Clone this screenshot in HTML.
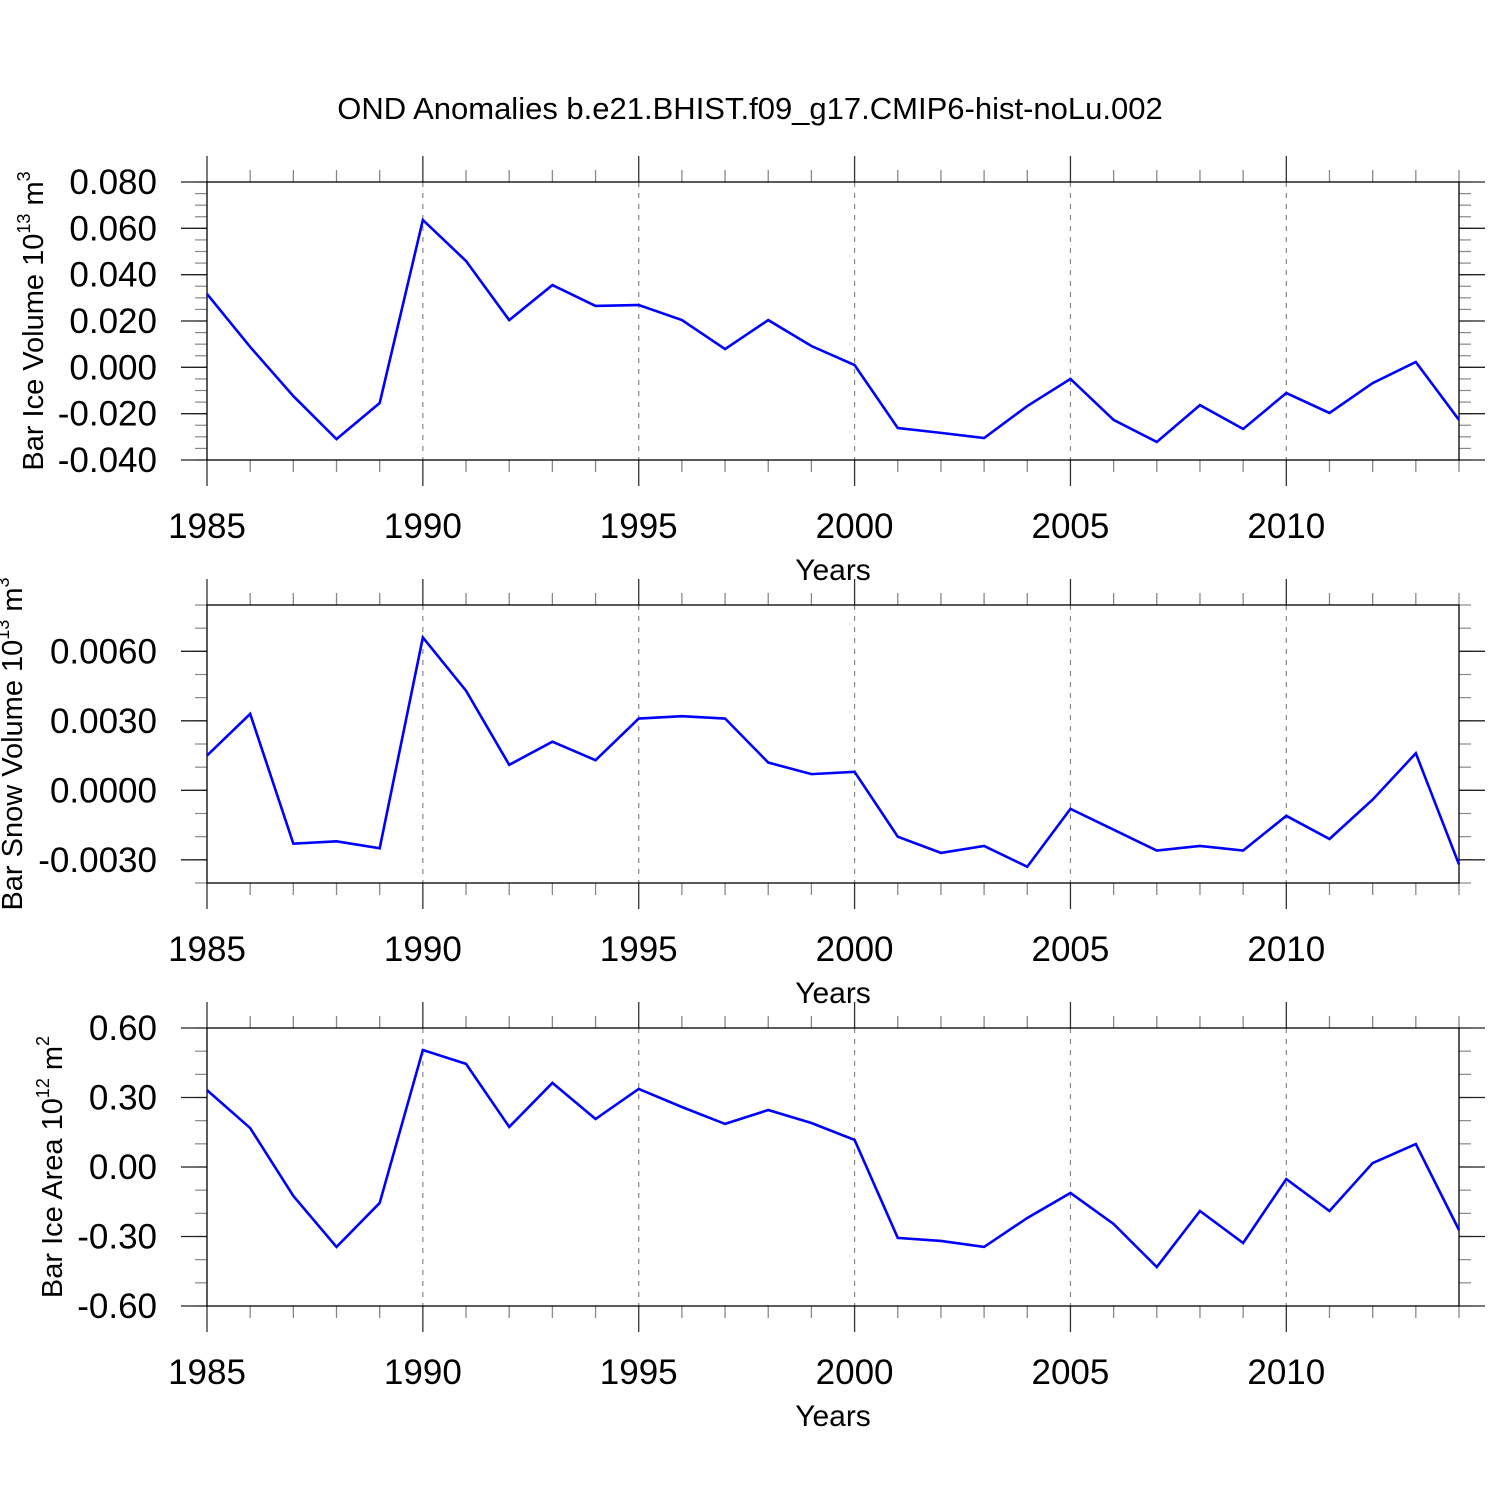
<!DOCTYPE html>
<html><head><meta charset="utf-8"><style>
html,body{margin:0;padding:0;background:#fff;}
svg{display:block;font-family:"Liberation Sans",Arial,sans-serif;}
</style></head><body>
<svg id="chart" width="1500" height="1500" xmlns="http://www.w3.org/2000/svg">
<rect width="1500" height="1500" fill="#fff"/>
<text x="750" y="119" font-size="31" text-anchor="middle">OND Anomalies b.e21.BHIST.f09_g17.CMIP6-hist-noLu.002</text>
</svg>
<script>
const years = [1985,1986,1987,1988,1989,1990,1991,1992,1993,1994,1995,1996,1997,1998,1999,2000,2001,2002,2003,2004,2005,2006,2007,2008,2009,2010,2011,2012,2013,2014];
const iceVolume = [0.0317,0.0088,-0.0124,-0.0310,-0.0154,0.0636,0.0459,0.0204,0.0355,0.0265,0.0269,0.0204,0.0079,0.0204,0.0092,0.0010,-0.0262,-0.0283,-0.0305,-0.0167,-0.0050,-0.0227,-0.0322,-0.0163,-0.0266,-0.0111,-0.0197,-0.0068,0.0023,-0.0227];
const snowVolume = [0.0015,0.0033,-0.0023,-0.0022,-0.0025,0.0066,0.0043,0.0011,0.0021,0.0013,0.0031,0.0032,0.0031,0.0012,0.0007,0.0008,-0.0020,-0.0027,-0.0024,-0.0033,-0.0008,-0.0017,-0.0026,-0.0024,-0.0026,-0.0011,-0.0021,-0.0004,0.0016,-0.0032];
const iceArea = [0.332,0.168,-0.125,-0.345,-0.155,0.505,0.445,0.173,0.363,0.207,0.337,0.259,0.186,0.246,0.190,0.117,-0.306,-0.319,-0.345,-0.220,-0.112,-0.246,-0.432,-0.190,-0.328,-0.052,-0.190,0.017,0.099,-0.272];
const xTickLabels = ["1985","1990","1995","2000","2005","2010"];
const yTicks1 = [0.08,0.06,0.04,0.02,0,-0.02,-0.04];
const yLabels1 = ["0.080","0.060","0.040","0.020","0.000","-0.020","-0.040"];
const yTicks2 = [0.006,0.003,0,-0.003];
const yLabels2 = ["0.0060","0.0030","0.0000","-0.0030"];
const yTicks3 = [0.6,0.3,0,-0.3,-0.6];
const yLabels3 = ["0.60","0.30","0.00","-0.30","-0.60"];

const NS="http://www.w3.org/2000/svg";
const svg=document.getElementById('chart');
function mk(tag,attrs,parent){const e=document.createElementNS(NS,tag);for(const k in attrs)e.setAttribute(k,attrs[k]);(parent||svg).appendChild(e);return e;}
const X0=207,X1=1459,xmin=1985,xmax=2014;
function xs(v){return X0+(v-xmin)/(xmax-xmin)*(X1-X0);}

const panels=[
 {top:182,bot:460,min:-0.04,max:0.08,minor:0.005,data:iceVolume,ticks:yTicks1,labels:yLabels1,name:'ice-volume',
  ytitle:['Bar Ice Volume 10','13',' m','3'],ytx:43},
 {top:605,bot:883,min:-0.004,max:0.008,minor:0.001,data:snowVolume,ticks:yTicks2,labels:yLabels2,name:'snow-volume',
  ytitle:['Bar Snow Volume 10','13',' m','3'],ytx:22},
 {top:1028,bot:1306,min:-0.6,max:0.6,minor:0.1,data:iceArea,ticks:yTicks3,labels:yLabels3,name:'ice-area',
  ytitle:['Bar Ice Area 10','12',' m','2'],ytx:62}
];
panels.forEach(p=>{
 const g=mk('g',{});
 
 
 const ys=v=>p.bot-(v-p.min)/(p.max-p.min)*(p.bot-p.top);
 for(let y=1990;y<=2010;y+=5){
  const l=mk('line',{x1:xs(y),x2:xs(y),y1:p.top,y2:p.bot,stroke:'#888','stroke-width':1.2,'stroke-dasharray':'5,6'},g);
  
  
 }
 for(let y=xmin;y<=xmax;y++){
  const major=(y%5===0);const len=major?26:12;
  mk('line',{x1:xs(y),x2:xs(y),y1:p.top-len,y2:p.top,stroke:major?'#333':'#888','stroke-width':1.3},g);
  mk('line',{x1:xs(y),x2:xs(y),y1:p.bot,y2:p.bot+len,stroke:major?'#333':'#888','stroke-width':1.3},g);
 }
 const n=Math.round((p.max-p.min)/p.minor);
 for(let i=0;i<=n;i++){
  const v=p.min+i*p.minor;const y=ys(v);
  mk('line',{x1:X0-12,x2:X0,y1:y,y2:y,stroke:'#888','stroke-width':1.2},g);
  mk('line',{x1:X1,x2:X1+12,y1:y,y2:y,stroke:'#888','stroke-width':1.2},g);
 }
 p.ticks.forEach((v,i)=>{
  const y=ys(v);
  mk('line',{x1:X0-26,x2:X0,y1:y,y2:y,stroke:'#222','stroke-width':1.3},g);
  mk('line',{x1:X1,x2:X1+26,y1:y,y2:y,stroke:'#222','stroke-width':1.3},g);
  const t=mk('text',{x:157,y:y+12,'font-size':35,'text-anchor':'end'},g);
  t.textContent=p.labels[i];
  
  
 });
 mk('rect',{x:X0,y:p.top,width:X1-X0,height:p.bot-p.top,fill:'none',stroke:'#000','stroke-width':1.3},g);
 xTickLabels.forEach(s=>{
  const t=mk('text',{x:xs(+s),y:p.bot+78,'font-size':35,'text-anchor':'middle'},g);
  t.textContent=s;
  
  
 });
 const xt=mk('text',{x:833,y:p.bot+120,'font-size':30,'text-anchor':'middle'},g);
 xt.textContent='Years';
 
 
 const cy=(p.top+p.bot)/2;
 const yt=mk('text',{x:p.ytx,y:cy,'font-size':29,'text-anchor':'middle',transform:`rotate(-90 ${p.ytx} ${cy})`},g);
 
 
 p.ytitle.forEach((s,i)=>{
  const ts=mk('tspan',{},yt);
  if(i%2===1){ts.setAttribute('font-size','18');ts.setAttribute('dy','-13');}
  else if(i>0){ts.setAttribute('dy','13');}
  ts.textContent=s;
 });
 const pts=years.map((y,i)=>xs(y)+','+ys(p.data[i])).join(' ');
 const pl=mk('polyline',{points:pts,fill:'none',stroke:'#0000ff','stroke-width':2.6,'stroke-linejoin':'miter'},g);
 
 
});
</script>
</body></html>
